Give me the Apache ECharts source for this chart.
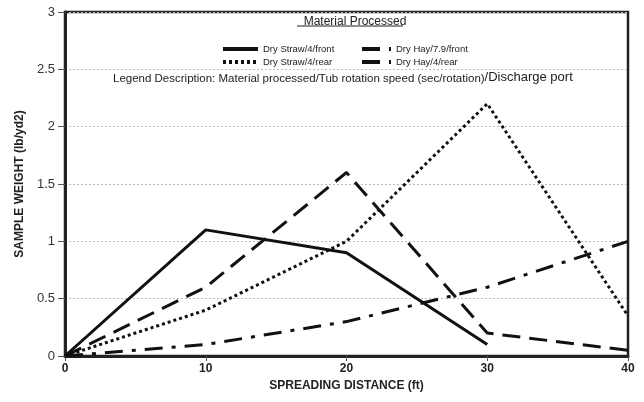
<!DOCTYPE html>
<html>
<head>
    <meta charset="utf-8">
    <title>Spreading distance</title>
    <script src="https://cdn.jsdelivr.net/npm/echarts@6/dist/echarts.min.js"></script>
    <style>
        body { margin: 0; background: #fff; }
        #main { width: 644px; height: 402px; }
    </style>
</head>
<body>
<div id="main"></div>
<script type="text/javascript">
// data
var distance = [0, 10, 20, 30, 40];
var strawFront = [0, 1.1, 0.9, 0.1];          // ends at 30 ft
var strawRear = [0, 0.4, 1.0, 2.2, 0.35];
var hayFront = [0, 0.6, 1.6, 0.2, 0.05];
var hayRear = [0, 0.1, 0.3, 0.6, 1.0];
var yTicks = [0, 0.5, 1, 1.5, 2, 2.5, 3];

function pairs(vals) {
    var out = [];
    for (var i = 0; i < vals.length; i++) out.push([distance[i], vals[i]]);
    return out;
}

var font = 'Arial, "Liberation Sans", sans-serif';
var myChart = echarts.init(document.getElementById('main'));

function line(name, vals, dash) {
    return {
        name: name,
        type: 'line',
        data: pairs(vals),
        symbol: 'none',
        animation: false,
        lineStyle: { color: '#111', width: 3, type: dash, cap: 'butt' },
        itemStyle: { color: '#111' }
    };
}

var legendText = { fontSize: 9.5, color: '#222', fontFamily: font };

var option = {
    backgroundColor: '#fff',
    textStyle: { fontFamily: font },
    title: [{
        text: 'Material Processed',
        left: 350, top: 11, textAlign: 'center',
        textStyle: { fontSize: 12, fontWeight: 'normal', color: '#222', fontFamily: font }
    }, {
        text: '{a|Legend Description: Material processed/Tub rotation speed (sec/rotation)}{b|/Discharge port}',
        left: 108, top: 66,
        textStyle: {
            fontWeight: 'normal',
            rich: {
                a: { fontSize: 11.5, fontWeight: 'normal', color: '#222', fontFamily: font },
                b: { fontSize: 13, fontWeight: 'normal', color: '#222', fontFamily: font, padding: [0, 0, 2, 0] }
            }
        }
    }],
    graphic: [{
        type: 'line',
        shape: { x1: 297, y1: 26, x2: 403, y2: 26 },
        style: { stroke: '#222', lineWidth: 1 }
    }],
    legend: [{
        left: 216, top: 39, orient: 'vertical', itemGap: 3,
        itemWidth: 35, itemHeight: 8,
        itemStyle: { opacity: 0 },
        lineStyle: { width: 4 },
        data: ['Dry Straw/4/front', 'Dry Straw/4/rear'],
        textStyle: legendText
    }, {
        left: 355, top: 39, orient: 'vertical', itemGap: 3,
        itemWidth: 29, itemHeight: 8,
        itemStyle: { opacity: 0 },
        lineStyle: { width: 4 },
        data: ['Dry Hay/7.9/front', 'Dry Hay/4/rear'],
        textStyle: legendText
    }],
    grid: {
        left: 65, right: 16, top: 12, bottom: 46,
        show: true, borderColor: '#222', borderWidth: 2.5
    },
    xAxis: {
        type: 'value', min: 0, max: 40, interval: 10,
        name: 'SPREADING DISTANCE (ft)', nameLocation: 'middle', nameGap: 24,
        nameTextStyle: { fontSize: 12, fontWeight: 'bold', color: '#222', fontFamily: font },
        axisLine: { show: true, onZero: false, lineStyle: { color: '#222', width: 3 } },
        axisTick: { show: true, length: 5, lineStyle: { color: '#555' } },
        axisLabel: { fontSize: 12, fontWeight: 'bold', color: '#222', margin: 7 },
        splitLine: { show: false }
    },
    yAxis: {
        type: 'value', min: yTicks[0], max: yTicks[yTicks.length - 1], interval: 0.5,
        name: 'SAMPLE WEIGHT (lb/yd2)', nameLocation: 'middle', nameGap: 35,
        nameTextStyle: { fontSize: 12, fontWeight: 'bold', color: '#222', fontFamily: font },
        axisLine: { show: true, onZero: false, lineStyle: { color: '#222', width: 3 } },
        axisTick: { show: true, length: 7, lineStyle: { color: '#555' } },
        axisLabel: { fontSize: 13, color: '#333', margin: 10 },
        splitLine: { show: true, lineStyle: { color: '#bbb', type: [2, 2], width: 1 } }
    },
    series: [
        line('Dry Straw/4/front', strawFront, 'solid'),
        line('Dry Hay/7.9/front', hayFront, [18, 9]),
        line('Dry Straw/4/rear', strawRear, [3, 3]),
        line('Dry Hay/4/rear', hayRear, [18, 9, 4, 9])
    ]
};

myChart.setOption(option);
</script>
</body>
</html>
